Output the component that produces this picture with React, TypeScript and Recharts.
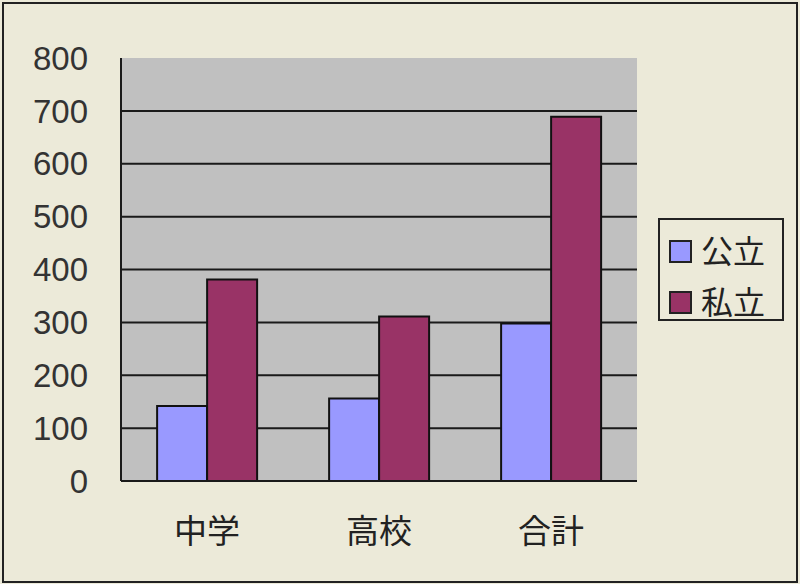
import React from "react";
import { BarChart, Bar, XAxis, YAxis, CartesianGrid } from "recharts";

const categories = ["中学", "高校", "合計"];
const seriesNames = ["公立", "私立"];
const seriesColors = ["#9999FF", "#993366"];
const publicValues = [142, 156, 298];
const privateValues = [381, 311, 689];
const yTicks = [0, 100, 200, 300, 400, 500, 600, 700, 800];
const gridValues = [100, 200, 300, 400, 500, 600, 700];

const data = categories.map((name, i) => ({
  name,
  公立: publicValues[i],
  私立: privateValues[i],
}));

const FONT = '"Liberation Sans", "Noto Sans CJK JP", sans-serif';

function LegendBox() {
  return (
    <div
      style={{
        position: "absolute",
        left: 658,
        top: 218,
        border: "2px solid #222",
        background: "#ECEAD9",
        width: 126,
        height: 103,
        boxSizing: "border-box",
        padding: "6px 0 0 9px",
        fontFamily: FONT,
      }}
    >
      {seriesNames.map((name, i) => (
        <div
          key={name}
          style={{ display: "flex", alignItems: "center", height: 51 }}
        >
          <span
            style={{
              width: 19,
              height: 19,
              background: seriesColors[i],
              border: "2px solid #222",
              marginRight: 9,
              display: "inline-block",
            }}
          />
          <span style={{ fontSize: 32, color: "#222", lineHeight: 1 }}>
            {name}
          </span>
        </div>
      ))}
    </div>
  );
}

export default function App() {
  return (
    <div
      style={{
        position: "absolute",
        left: 0,
        top: 0,
        width: 800,
        height: 584,
        background: "#ECEAD9",
      }}
    >
      <div
        style={{
          position: "absolute",
          left: 2,
          top: 2,
          width: 796,
          height: 581,
          border: "2px solid #222",
          boxSizing: "border-box",
        }}
      />
      <BarChart
        width={800}
        height={584}
        data={data}
        margin={{ top: 58, right: 163, bottom: 43, left: 21 }}
        barCategoryGap="21%"
        barGap={0}
        style={{ position: "absolute", left: 0, top: 0 }}
      >
        <CartesianGrid
          horizontal
          vertical={false}
          stroke="#1a1a1a"
          strokeWidth={2}
          horizontalValues={gridValues}
          fill="#C0C0C0"
          fillOpacity={1}
        />
        <XAxis
          dataKey="name"
          height={60}
          tickSize={0}
          tickMargin={39}
          axisLine={{ stroke: "#1a1a1a", strokeWidth: 2 }}
          tick={{ fontSize: 33, fill: "#222", fontFamily: FONT }}
        />
        <YAxis
          width={100}
          domain={[0, 800]}
          ticks={yTicks}
          interval={0}
          tickSize={0}
          tickMargin={33}
          axisLine={{ stroke: "#1a1a1a", strokeWidth: 2 }}
          tick={{ fontSize: 33, fill: "#333", fontFamily: FONT }}
        />
        <Bar
          dataKey="公立"
          fill={seriesColors[0]}
          stroke="#111"
          strokeWidth={2}
          isAnimationActive={false}
        />
        <Bar
          dataKey="私立"
          fill={seriesColors[1]}
          stroke="#111"
          strokeWidth={2}
          isAnimationActive={false}
        />
      </BarChart>
      <LegendBox />
    </div>
  );
}
